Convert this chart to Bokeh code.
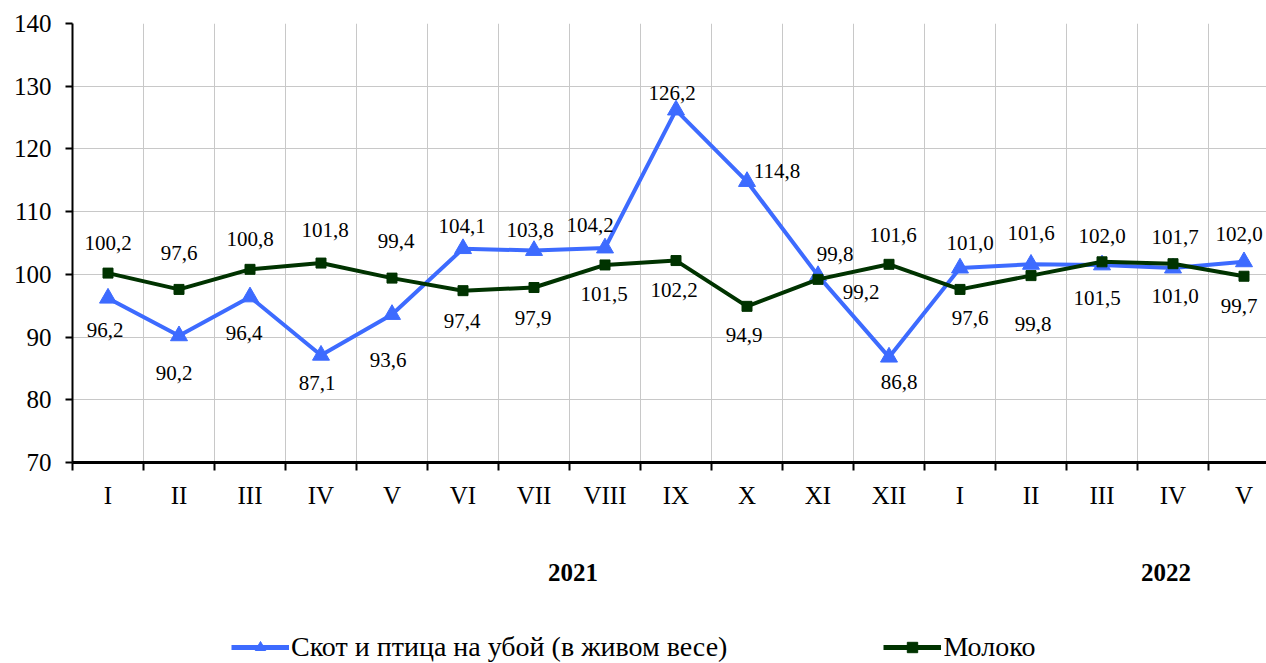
from bokeh.plotting import figure
from bokeh.layouts import column
from bokeh.models import (Range1d, FixedTicker, LinearAxis, Legend, LegendItem,
                          ColumnDataSource, CustomJSTickFormatter)
from bokeh.core.properties import value
from bokeh.embed import file_html
from bokeh.resources import INLINE

months = ["I", "II", "III", "IV", "V", "VI", "VII", "VIII", "IX", "X", "XI", "XII",
          "I", "II", "III", "IV", "V"]
years = ["2021", "2022"]
livestock = [96.2, 90.2, 96.4, 87.1, 93.6, 104.1, 103.8, 104.2, 126.2, 114.8, 99.8, 86.8,
             101.0, 101.6, 101.5, 101.0, 102.0]
milk = [100.2, 97.6, 100.8, 101.8, 99.4, 97.4, 97.9, 101.5, 102.2, 94.9, 99.2, 101.6,
        97.6, 99.8, 102.0, 101.7, 99.7]
name_livestock = "Скот и птица на убой (в живом весе)"
name_milk = "Молоко"

# label placement (screen px offsets, style only)
lv_dx = [-3, -5, -6, -4, -4, -1, -4, -15, -4, 30, 17, 10, 10, 0, -5, 2, -5]
lv_dy = [32, 37, 36, 28, 46, -23, -21, -23, -17, -11, -22, 25, -25, -31, 33, 28, -28]
mk_dx = [0, 0, 0, 4, 4, -1, -1, -1, -2, -3, 43, 4, 10, 2, 0, 2, -5]
mk_dy = [-30, -36, -30, -33, -37, 30, 30, 29, 29, 29, 13, -29, 29, 48, -26, -27, 30]

FONT = "Liberation Serif"
BLUE = "#3D6BFF"
GREEN = "#003300"

W = 1266
H_MAIN = 600
H_LEG = 63

xs = [i + 0.5 for i in range(len(months))]

p = figure(width=W, height=H_MAIN, output_backend="svg", toolbar_location=None,
           x_range=Range1d(0, (W - 72) / 71.0), y_range=Range1d(70, 140),
           min_border_left=72, min_border_right=0, min_border_top=23,
           min_border_bottom=H_MAIN - 462)
p.outline_line_color = None
p.background_fill_color = "white"

# x axis: labels at category centres, ticks at boundaries
xt = FixedTicker(ticks=xs, minor_ticks=list(range(len(months) + 1)))
p.xaxis.ticker = xt
p.xaxis.formatter = CustomJSTickFormatter(args=dict(labels=months),
                                          code="return labels[Math.floor(tick)]")
p.xaxis.major_tick_out = 0
p.xaxis.major_tick_in = 0
p.xaxis.minor_tick_out = 8
p.xaxis.minor_tick_in = 0
p.xaxis.minor_tick_line_color = "black"
p.xaxis.minor_tick_line_width = 2
p.xaxis.axis_line_width = 3
p.xaxis.axis_line_color = "black"
p.xaxis.major_label_text_font = FONT
p.xaxis.major_label_text_font_size = "25px"
p.xaxis.major_label_text_color = "black"
p.xaxis.major_label_standoff = 11

p.xgrid.ticker = xt
p.xgrid.grid_line_color = None
p.xgrid.minor_grid_line_color = "#C8C8C8"
p.xgrid.minor_grid_line_width = 1

# y axis
yt = FixedTicker(ticks=list(range(70, 141, 10)), minor_ticks=[])
p.yaxis.ticker = yt
p.yaxis.major_tick_out = 7
p.yaxis.major_tick_in = 0
p.yaxis.major_tick_line_width = 2
p.yaxis.axis_line_width = 2
p.yaxis.axis_line_color = "black"
p.yaxis.major_label_text_font = FONT
p.yaxis.major_label_text_font_size = "25px"
p.yaxis.major_label_text_color = "black"
p.yaxis.major_label_standoff = 14
p.ygrid.ticker = yt
p.ygrid.grid_line_color = "#C8C8C8"
p.ygrid.grid_line_width = 1

# year axis
yr_axis = LinearAxis(ticker=FixedTicker(ticks=[7.05, 15.4], minor_ticks=[]),
                     formatter=CustomJSTickFormatter(args=dict(labels=years),
                                                     code="return labels[index]"))
yr_axis.axis_line_color = None
yr_axis.major_tick_line_color = None
yr_axis.minor_tick_line_color = None
yr_axis.major_label_text_font = FONT
yr_axis.major_label_text_font_size = "25px"
yr_axis.major_label_text_font_style = "bold"
yr_axis.major_label_text_color = "black"
yr_axis.major_label_standoff = 46
p.add_layout(yr_axis, "below")

src_l = ColumnDataSource(dict(x=xs, y=livestock, t=[f"{v:.1f}".replace(".", ",") for v in livestock],
                              dx=lv_dx, dy=lv_dy))
src_m = ColumnDataSource(dict(x=xs, y=milk, t=[f"{v:.1f}".replace(".", ",") for v in milk],
                              dx=mk_dx, dy=mk_dy))

p.line("x", "y", source=src_l, line_color=BLUE, line_width=4)
p.scatter("x", "y", source=src_l, marker="triangle", size=17, fill_color=BLUE,
          line_color=BLUE)
p.line("x", "y", source=src_m, line_color=GREEN, line_width=4)
p.scatter("x", "y", source=src_m, marker="square", size=10, fill_color=GREEN,
          line_color=GREEN)

for src in (src_l, src_m):
    p.text("x", "y", text="t", source=src, x_offset="dx", y_offset="dy",
           text_font=value(FONT), text_font_size="21px", text_color="black",
           text_align="center", text_baseline="middle")

# legend strip below the chart (same series, drawn outside this strip's view)
q = figure(width=W, height=H_LEG, output_backend="svg", toolbar_location=None,
           x_axis_type=None, y_axis_type=None,
           x_range=Range1d(0, 1), y_range=Range1d(0, 1),
           min_border_left=0, min_border_right=0, min_border_top=0, min_border_bottom=0)
q.grid.visible = False
q.outline_line_color = None
ql1 = q.line("x", "y", source=src_l, line_color=BLUE, line_width=5)
qs1 = q.scatter("x", "y", source=src_l, marker="triangle", size=17, fill_color=BLUE,
                line_color=BLUE)
ql2 = q.line("x", "y", source=src_m, line_color=GREEN, line_width=5)
qs2 = q.scatter("x", "y", source=src_m, marker="square", size=10, fill_color=GREEN,
                line_color=GREEN)

legend = Legend(items=[LegendItem(label=name_livestock, renderers=[ql1, qs1]),
                       LegendItem(label=name_milk, renderers=[ql2, qs2])],
                orientation="horizontal", location=(159, 0), spacing=156,
                glyph_width=58, glyph_height=26, padding=0, margin=0,
                label_text_font=FONT, label_text_font_size="28px",
                label_text_color="black",
                label_standoff=2, border_line_color=None,
                background_fill_alpha=0)
q.add_layout(legend, "center")

open("out.html", "w").write(file_html(column(p, q, spacing=0), INLINE))
